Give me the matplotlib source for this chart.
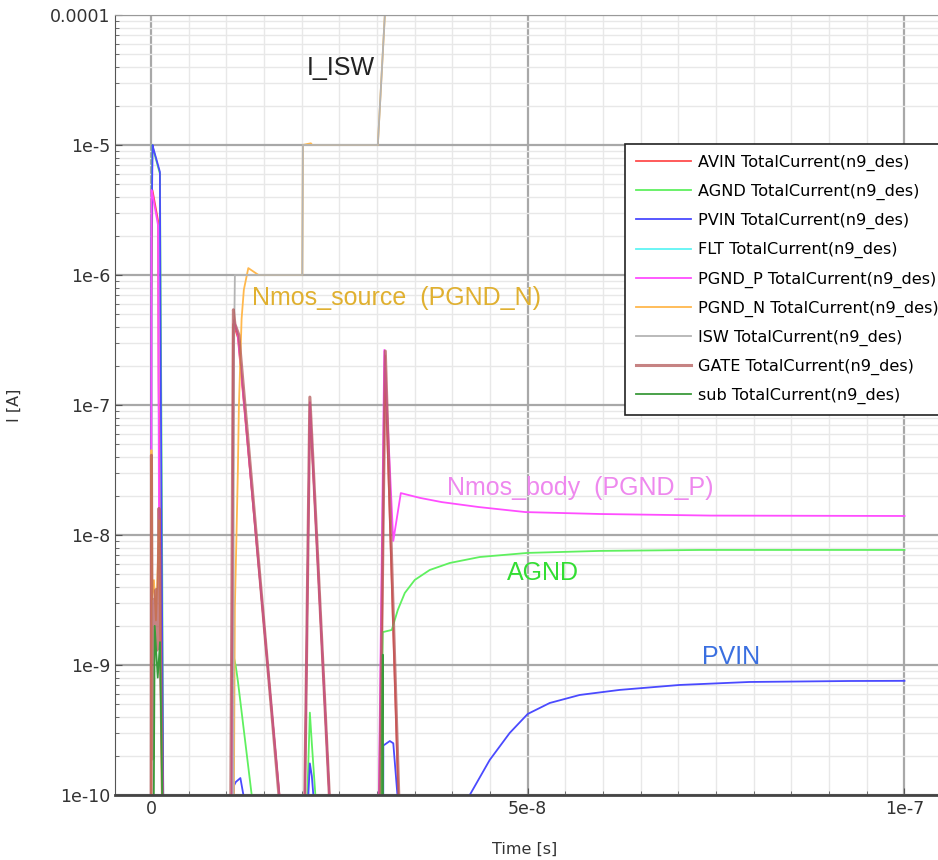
import matplotlib
matplotlib.use('Agg')
import matplotlib.pyplot as plt
from matplotlib.ticker import MultipleLocator, LogLocator, NullFormatter
import numpy as np

# time in ns, current in A (1e-12 = below the visible range)
avin_t = [0, 0.03, 0.2, 0.95, 1.02, 1.15, 1.55, 1.62, 10.70, 10.77, 10.94, 11.54, 17.04, 17.1,
          20.36, 20.42, 21.09, 23.67, 23.74, 30.37, 30.44, 31.04, 32.83, 32.89, 100]
avin_i = [1e-12, 5e-7, 4.5e-6, 2.6e-6, 1.5e-7, 2e-8, 1e-10, 1e-12, 1e-12, 1e-10, 4.2e-7, 3.3e-7, 1e-10, 1e-12,
          1e-12, 1e-10, 1.0e-7, 1e-10, 1e-12, 1e-12, 1e-10, 2.4e-7, 1e-10, 1e-12, 1e-12]

agnd_t = [0, 0.066, 0.2, 0.3, 1.19, 1.3, 1.5, 1.63, 1.67, 10.77, 10.81, 10.88, 11.27, 11.54, 13.37, 13.42,
          20.69, 20.76, 21.09, 21.35, 21.82, 21.88, 30.44, 30.50, 30.77, 31.96, 32.76, 33.69, 35.01, 37.0,
          39.66, 43.64, 50.0, 59.55, 72.8, 100]
agnd_i = [1e-12, 3e-6, 1e-5, 9.3e-6, 6e-6, 6e-7, 5e-9, 1e-10, 1e-12, 1e-12, 1e-10, 1.24e-9, 9.7e-10, 7.5e-10, 1e-10, 1e-12,
          1e-12, 1e-10, 4.3e-10, 2.5e-10, 1e-10, 1e-12, 1e-12, 1e-10, 1.79e-9, 1.86e-9, 2.65e-9, 3.58e-9, 4.51e-9, 5.38e-9,
          6.09e-9, 6.77e-9, 7.28e-9, 7.54e-9, 7.67e-9, 7.67e-9]

pvin_t = [0, 0.066, 0.22, 0.3, 1.19, 1.25, 1.45, 1.63, 1.66, 10.94, 11.01, 11.27, 11.87, 12.27, 12.33,
          20.82, 20.89, 21.09, 21.35, 21.55, 21.62, 30.77, 30.84, 31.70, 32.16, 32.71, 32.76,
          41.25, 42.31, 44.96, 47.61, 50.0, 52.92, 56.9, 62.2, 70.16, 79.4, 92.7, 100]
pvin_i = [1e-12, 1.93e-6, 1e-5, 9.5e-6, 6.2e-6, 6.4e-7, 4.5e-9, 1e-10, 1e-12, 1e-12, 1.18e-10, 1.26e-10, 1.35e-10, 1e-10, 1e-12,
          1e-12, 1e-10, 1.75e-10, 1.4e-10, 1e-10, 1e-12, 1e-12, 2.4e-10, 2.6e-10, 2.5e-10, 1e-10, 1e-12,
          5e-11, 1e-10, 1.86e-10, 3.0e-10, 4.2e-10, 5.1e-10, 5.88e-10, 6.43e-10, 7.02e-10, 7.40e-10, 7.53e-10, 7.55e-10]

flt_t = [0, 100]
flt_i = [1e-12, 1e-12]

pgndp_t = [0, 0.027, 0.066, 0.2, 0.95, 1.06, 1.33, 1.55, 1.6, 10.68, 10.74, 10.88, 11.01, 11.54, 17.04, 17.11,
           20.36, 20.42, 21.09, 23.67, 23.74, 30.17, 30.24, 30.97, 32.16, 33.16, 35.68, 38.6, 43.5, 49.7,
           59.6, 74.3, 100]
pgndp_i = [1e-12, 1e-10, 4.5e-6, 4.2e-6, 2.4e-6, 1.8e-8, 5.5e-10, 1e-10, 1e-12, 1e-12, 1e-10, 1.86e-8, 4.5e-7, 3.45e-7, 1e-10, 1e-12,
           1e-12, 1e-10, 1.05e-7, 1e-10, 1e-12, 1e-12, 1e-10, 2.65e-7, 9.0e-9, 2.1e-8, 1.93e-8, 1.79e-8, 1.64e-8, 1.50e-8,
           1.45e-8, 1.41e-8, 1.40e-8]

pgndn_t = [0, 0.066, 0.133, 0.398, 0.663, 0.928, 1.061, 1.194, 1.459, 1.53, 10.88, 11.01, 11.14, 11.34, 11.54, 11.67,
           12.03, 12.33, 12.92, 14.27, 20.09, 20.16, 21.22, 21.4, 30.11, 31.04, 100]
pgndn_i = [1e-12, 4.5e-8, 3.2e-9, 4.5e-9, 2.2e-9, 6.3e-9, 1.3e-8, 2.4e-9, 1e-10, 1e-12, 1e-12, 1e-10, 2.8e-9, 9.2e-9, 3.2e-8, 9.6e-8,
           4.6e-7, 7.7e-7, 1.13e-6, 1.0e-6, 1.0e-6, 1.0e-5, 1.03e-5, 1.0e-5, 1.0e-5, 1.0e-4, 1.0e-4]

isw_t = [0, 10.88, 11.01, 11.14, 20.09, 20.16, 30.11, 31.04, 100]
isw_i = [1e-12, 1e-12, 2.2e-7, 1.0e-6, 1.0e-6, 1.0e-5, 1.0e-5, 1.0e-4, 1.0e-4]

gate_t = [0, 0.027, 0.066, 0.133, 0.265, 0.398, 0.531, 0.663, 0.796, 0.928, 1.061, 1.194, 1.326, 1.525, 1.59,
          10.55, 10.6, 10.94, 11.14, 11.67, 16.98, 17.04, 20.36, 20.42, 21.09, 23.67, 23.74,
          30.31, 30.37, 31.10, 32.89, 32.96, 100]
gate_i = [1e-12, 1e-10, 4.1e-8, 3.8e-9, 1.9e-10, 3.2e-9, 1.6e-9, 3.8e-9, 1.3e-9, 2.4e-9, 1.6e-8, 6.3e-9, 7.6e-10, 1e-10, 1e-12,
          1e-12, 1e-10, 5.4e-7, 4.2e-7, 3.45e-7, 1e-10, 1e-12, 1e-12, 1e-10, 1.15e-7, 1e-10, 1e-12,
          1e-12, 1e-10, 2.6e-7, 1e-10, 1e-12, 1e-12]

sub_t = [0, 0.2, 0.5, 0.9, 1.2, 1.5, 1.55, 30.6, 30.7, 30.77, 30.84, 100]
sub_i = [1e-12, 1e-12, 2e-9, 8e-10, 1.5e-9, 1e-10, 1e-12, 1e-12, 4e-10, 1.2e-9, 1e-12, 1e-12]

names = ['AVIN', 'AGND', 'PVIN', 'FLT', 'PGND_P', 'PGND_N', 'ISW', 'GATE', 'sub']
series_t = [avin_t, agnd_t, pvin_t, flt_t, pgndp_t, pgndn_t, isw_t, gate_t, sub_t]
series_i = [avin_i, agnd_i, pvin_i, flt_i, pgndp_i, pgndn_i, isw_i, gate_i, sub_i]
colors = ['#ff4d4d', '#5ff05f', '#4a4aff', '#5ff5f5', '#ff4dff', '#ffb84d', '#b4b4b4', '#b35a5a', '#3a9a3a']

fig = plt.figure(figsize=(9.38, 8.6), dpi=100)
ax = fig.add_axes([0.1226, 0.0756, 0.877, 0.907])

for n, t, i, c in zip(names, series_t, series_i, colors):
    lw = 2.2 if n == 'GATE' else 1.3
    a = 0.75 if n == 'GATE' else 1.0
    ax.plot(np.array(t) * 1e-9, i, color=c, lw=lw, alpha=a, label=n + ' TotalCurrent(n9_des)')

ax.set_yscale('log')
ax.set_ylim(1e-10, 1e-4)
ax.set_xlim(-4.77e-9, 1.044e-7)

ax.set_xticks([0, 5e-8, 1e-7])
ax.set_xticklabels(['0', '5e-8', '1e-7'])
ax.xaxis.set_minor_locator(MultipleLocator(5e-9))
ax.set_yticks([1e-4, 1e-5, 1e-6, 1e-7, 1e-8, 1e-9, 1e-10])
ax.set_yticklabels(['0.0001', '1e-5', '1e-6', '1e-7', '1e-8', '1e-9', '1e-10'])
ax.yaxis.set_minor_locator(LogLocator(base=10, subs=np.arange(2, 10)))
ax.yaxis.set_minor_formatter(NullFormatter())

ax.set_axisbelow(True)
ax.grid(which='major', color='#a8a8a8', lw=1.6)
ax.grid(which='minor', color='#e8e8e8', lw=1.0)
ax.tick_params(which='both', direction='in', labelsize=12.5, labelcolor='#333333', color='#555555')
ax.tick_params(which='major', length=5)
ax.tick_params(which='minor', length=3)
ax.spines['right'].set_visible(False)
ax.spines['top'].set_color('#999999')
ax.spines['left'].set_color('#555555')
ax.spines['bottom'].set_color('#444444')
ax.spines['bottom'].set_linewidth(2)

ax.set_xlabel('Time [s]', fontsize=11.5, color='#333333')
ax.set_ylabel('I [A]', fontsize=11.5, color='#333333')
ax.xaxis.set_label_coords(0.498, -0.06)
ax.yaxis.set_label_coords(-0.113, 0.5)

# curve annotations
lab_font = 'Liberation Sans'
ax.text(0.233, 0.932, 'I_ISW', transform=ax.transAxes, fontsize=18, family=lab_font, color='#222222', va='center')
ax.text(0.166, 0.637, 'Nmos_source  (PGND_N)', transform=ax.transAxes, fontsize=18, family=lab_font, color='#e0b030', va='center')
ax.text(0.403, 0.394, 'Nmos_body  (PGND_P)', transform=ax.transAxes, fontsize=18, family=lab_font, color='#ee88ee', va='center')
ax.text(0.476, 0.285, 'AGND', transform=ax.transAxes, fontsize=18, family=lab_font, color='#33dd33', va='center')
ax.text(0.714, 0.177, 'PVIN', transform=ax.transAxes, fontsize=18, family=lab_font, color='#3a6fe0', va='center')

leg = ax.legend(loc='upper left', bbox_to_anchor=(0.62, 0.835), fontsize=11.6, frameon=True, fancybox=False,
                edgecolor='#222222', framealpha=1, handlelength=3.4, handletextpad=0.4, labelspacing=0.8,
                borderpad=0.7, borderaxespad=0)
leg.get_frame().set_linewidth(1.2)

fig.savefig('out.png', dpi=100)
